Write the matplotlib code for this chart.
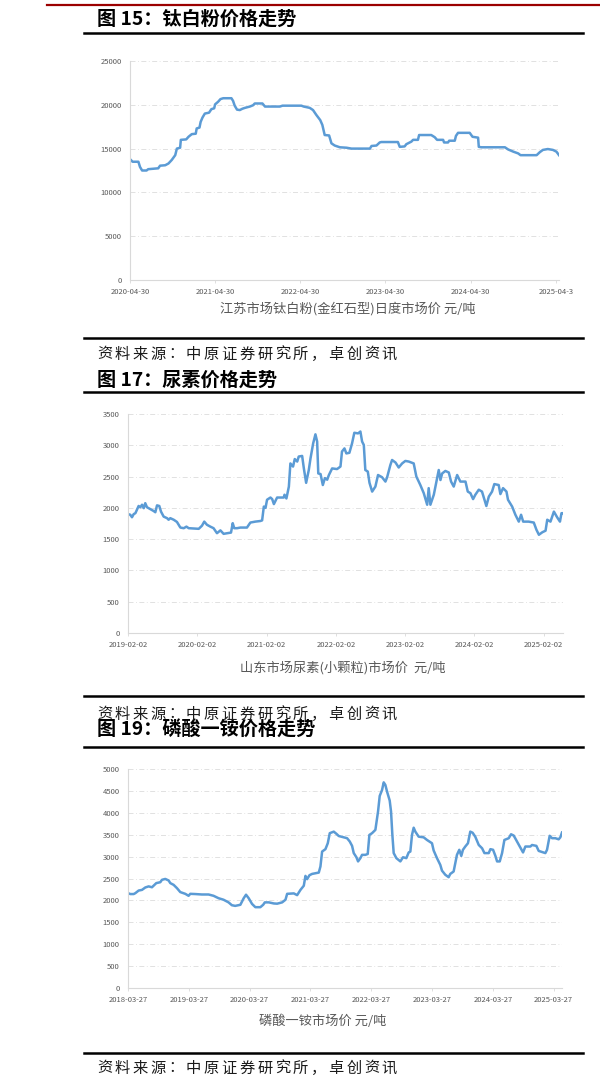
import matplotlib.pyplot as plt
import pandas as pd

plt.rcParams['font.family'] = ['Noto Sans CJK SC', 'DejaVu Sans']

# 钛白粉 (金红石型) 江苏市场, 元/吨
tio2_dates = ['2020-04-30', '2020-05-11', '2020-06-05', '2020-06-12', '2020-06-21', '2020-07-10',
              '2020-07-17', '2020-08-29', '2020-09-06', '2020-09-28', '2020-10-12', '2020-10-26',
              '2020-11-10', '2020-11-17', '2020-12-01', '2020-12-04', '2020-12-27', '2021-01-06',
              '2021-01-20', '2021-02-06', '2021-02-10', '2021-02-22', '2021-02-27', '2021-03-07',
              '2021-03-17', '2021-04-04', '2021-04-14', '2021-04-26', '2021-04-30', '2021-05-13',
              '2021-05-23', '2021-06-04', '2021-07-09', '2021-07-16', '2021-07-23', '2021-08-02',
              '2021-08-14', '2021-08-25', '2021-09-05', '2021-09-26', '2021-10-10', '2021-10-17',
              '2021-11-19', '2021-11-30', '2022-02-02', '2022-02-13', '2022-05-05', '2022-05-15',
              '2022-06-10', '2022-06-24', '2022-07-08', '2022-07-25', '2022-08-03', '2022-08-13',
              '2022-09-01', '2022-09-11', '2022-09-25', '2022-10-17', '2022-11-15', '2022-12-06',
              '2023-02-23', '2023-03-02', '2023-03-23', '2023-04-06', '2023-04-13', '2023-06-23',
              '2023-07-01', '2023-07-22', '2023-07-29', '2023-08-20', '2023-08-27', '2023-09-17',
              '2023-09-22', '2023-11-13', '2023-11-28', '2023-12-08', '2024-01-03', '2024-01-07',
              '2024-01-24', '2024-01-29', '2024-02-22', '2024-02-27', '2024-03-07', '2024-04-26',
              '2024-05-08', '2024-06-01', '2024-06-04', '2024-06-15', '2024-09-24', '2024-10-08',
              '2024-10-30', '2024-11-20', '2024-11-30', '2025-02-07', '2025-02-21', '2025-03-06',
              '2025-03-27', '2025-04-18', '2025-05-03', '2025-05-14']
tio2_price = [13800, 13500, 13500, 12900, 12500, 12500,
              12650, 12750, 13050, 13100, 13300, 13700,
              14250, 15000, 15100, 16000, 16050, 16350,
              16650, 16700, 17300, 17400, 18050, 18550,
              19000, 19100, 19500, 19600, 20050, 20350,
              20650, 20750, 20750, 20450, 19900, 19450,
              19400, 19550, 19650, 19800, 19950, 20150,
              20150, 19800, 19800, 19900, 19900, 19800,
              19650, 19400, 18850, 18250, 17700, 16550,
              16500, 15600, 15350, 15150, 15100, 15000,
              15000, 15300, 15350, 15700, 15750, 15750,
              15200, 15250, 15500, 15800, 16000, 16000,
              16550, 16550, 16300, 16000, 16000, 15700,
              15700, 15900, 15900, 16450, 16800, 16800,
              16350, 16250, 15200, 15150, 15150, 14900,
              14650, 14450, 14250, 14250, 14600, 14850,
              14950, 14850, 14650, 14250]
tio2_ticks = ['2020-04-30', '2021-04-30', '2022-04-30', '2023-04-30', '2024-04-30', '2025-04-30']
tio2_labels = ['2020-04-30', '2021-04-30', '2022-04-30', '2023-04-30', '2024-04-30', '2025-04-3']

# 尿素 (小颗粒) 山东市场, 元/吨
urea_dates = ['2019-02-02', '2019-02-14', '2019-02-23', '2019-03-04', '2019-03-13', '2019-03-30',
              '2019-04-08', '2019-04-17', '2019-04-26', '2019-05-04', '2019-05-13', '2019-05-31',
              '2019-06-17', '2019-06-26', '2019-07-05', '2019-07-17', '2019-07-26', '2019-08-09',
              '2019-08-27', '2019-09-04', '2019-09-13', '2019-10-01', '2019-10-18', '2019-11-05',
              '2019-11-23', '2019-12-07', '2019-12-19', '2020-02-10', '2020-02-27', '2020-03-10',
              '2020-03-24', '2020-04-11', '2020-04-28', '2020-05-16', '2020-06-03', '2020-06-20',
              '2020-07-08', '2020-07-29', '2020-08-07', '2020-08-15', '2020-08-30', '2020-09-16',
              '2020-10-21', '2020-11-08', '2020-12-04', '2020-12-31', '2021-01-09', '2021-01-18',
              '2021-01-27', '2021-02-04', '2021-02-22', '2021-03-03', '2021-03-12', '2021-03-29',
              '2021-05-03', '2021-05-07', '2021-05-17', '2021-05-30', '2021-06-07', '2021-06-21',
              '2021-06-30', '2021-07-13', '2021-07-21', '2021-08-08', '2021-08-17', '2021-08-29',
              '2021-09-12', '2021-09-21', '2021-10-05', '2021-10-17', '2021-10-26', '2021-11-01',
              '2021-11-13', '2021-11-25', '2021-12-06', '2021-12-18', '2021-12-27', '2022-01-13',
              '2022-02-08', '2022-02-26', '2022-03-06', '2022-03-19', '2022-03-29', '2022-04-14',
              '2022-04-28', '2022-05-10', '2022-05-30', '2022-06-11', '2022-06-20', '2022-06-29',
              '2022-07-07', '2022-07-20', '2022-07-29', '2022-08-12', '2022-08-29', '2022-09-12',
              '2022-10-03', '2022-10-21', '2022-10-30', '2022-11-16', '2022-11-25', '2022-12-13',
              '2022-12-30', '2023-01-17', '2023-02-03', '2023-02-21', '2023-03-19', '2023-04-02',
              '2023-04-23', '2023-05-11', '2023-05-29', '2023-06-06', '2023-06-15', '2023-07-03',
              '2023-07-17', '2023-07-29', '2023-08-07', '2023-08-16', '2023-09-02', '2023-09-20',
              '2023-10-02', '2023-10-16', '2023-11-03', '2023-11-20', '2023-12-17', '2023-12-29',
              '2024-01-12', '2024-01-26', '2024-02-07', '2024-02-25', '2024-03-13', '2024-03-26',
              '2024-04-05', '2024-04-18', '2024-05-05', '2024-05-17', '2024-06-09', '2024-06-18',
              '2024-07-02', '2024-07-20', '2024-07-28', '2024-08-19', '2024-09-05', '2024-09-23',
              '2024-10-05', '2024-10-16', '2024-11-14', '2024-12-11', '2024-12-25', '2025-01-07',
              '2025-01-25', '2025-02-11', '2025-02-20', '2025-03-09', '2025-03-27', '2025-04-13',
              '2025-04-28', '2025-05-06', '2025-05-14']
urea_price = [1900, 1890, 1850, 1900, 1915, 2030,
              2010, 2050, 1995, 2075, 2010, 1980,
              1950, 1930, 2040, 2030, 1940, 1860,
              1835, 1810, 1835, 1810, 1775, 1685,
              1675, 1700, 1675, 1665, 1715, 1780,
              1730, 1700, 1675, 1595, 1640, 1585,
              1595, 1605, 1755, 1675, 1675, 1685,
              1685, 1765, 1780, 1790, 1800, 2020,
              2000, 2130, 2165, 2140, 2060, 2165,
              2165, 2210, 2150, 2340, 2710, 2660,
              2780, 2740, 2820, 2830, 2630, 2400,
              2605, 2790, 3030, 3175, 3060, 2550,
              2540, 2365, 2475, 2450, 2525, 2630,
              2620, 2660, 2900, 2950, 2870, 2880,
              3030, 3200, 3190, 3220, 3060, 3005,
              2605, 2580, 2400, 2260, 2340, 2525,
              2490, 2420, 2490, 2685, 2765, 2725,
              2645, 2710, 2750, 2740, 2710, 2500,
              2365, 2235, 2050, 2315, 2050, 2210,
              2420, 2605, 2445, 2550, 2590, 2565,
              2420, 2340, 2525, 2420, 2420, 2260,
              2235, 2140, 2210, 2290, 2260, 2130,
              2030, 2180, 2260, 2380, 2365, 2220,
              2315, 2260, 2130, 2020, 1890, 1780,
              1890, 1780, 1780, 1765, 1650, 1570,
              1610, 1635, 1810, 1780, 1940, 1850,
              1780, 1915, 1915]
urea_ticks = ['2019-02-02', '2020-02-02', '2021-02-02', '2022-02-02', '2023-02-02', '2024-02-02',
              '2025-02-02']

# 磷酸一铵, 元/吨
map_dates = ['2018-03-27', '2018-04-10', '2018-04-30', '2018-05-10', '2018-05-30', '2018-06-19',
             '2018-07-09', '2018-07-29', '2018-08-18', '2018-09-13', '2018-10-07', '2018-10-17',
             '2018-11-06', '2018-11-26', '2018-12-06', '2018-12-26', '2019-01-15', '2019-02-04',
             '2019-03-06', '2019-03-26', '2019-04-05', '2019-05-05', '2019-06-14', '2019-07-24',
             '2019-08-23', '2019-09-22', '2019-10-22', '2019-11-21', '2019-12-11', '2019-12-31',
             '2020-01-31', '2020-02-20', '2020-03-05', '2020-03-21', '2020-04-10', '2020-04-30',
             '2020-05-30', '2020-06-16', '2020-06-26', '2020-07-20', '2020-08-19', '2020-09-08',
             '2020-10-08', '2020-10-28', '2020-11-07', '2020-12-17', '2021-01-06', '2021-01-26',
             '2021-02-15', '2021-02-25', '2021-03-07', '2021-03-21', '2021-04-06', '2021-04-26',
             '2021-05-16', '2021-05-26', '2021-06-05', '2021-06-25', '2021-07-09', '2021-07-21',
             '2021-08-14', '2021-08-30', '2021-09-13', '2021-10-13', '2021-11-02', '2021-11-18',
             '2021-12-02', '2021-12-12', '2021-12-28', '2022-01-07', '2022-01-21', '2022-01-31',
             '2022-02-20', '2022-03-06', '2022-03-16', '2022-04-01', '2022-04-21', '2022-05-07',
             '2022-05-17', '2022-05-31', '2022-06-10', '2022-06-20', '2022-06-30', '2022-07-16',
             '2022-07-24', '2022-08-01', '2022-08-09', '2022-08-25', '2022-09-18', '2022-10-04',
             '2022-10-24', '2022-11-07', '2022-11-17', '2022-11-27', '2022-12-07', '2022-12-17',
             '2023-01-06', '2023-02-05', '2023-02-25', '2023-03-27', '2023-04-06', '2023-04-26',
             '2023-05-16', '2023-05-26', '2023-06-15', '2023-07-05', '2023-07-15', '2023-08-04',
             '2023-08-24', '2023-09-07', '2023-09-19', '2023-09-29', '2023-10-13', '2023-10-29',
             '2023-11-12', '2023-11-26', '2023-12-12', '2024-01-02', '2024-01-22', '2024-02-05',
             '2024-03-02', '2024-03-12', '2024-03-28', '2024-04-11', '2024-04-21', '2024-05-07',
             '2024-05-21', '2024-06-04', '2024-06-30', '2024-07-14', '2024-07-30', '2024-08-19',
             '2024-09-08', '2024-09-24', '2024-10-08', '2024-11-07', '2024-11-17', '2024-12-13',
             '2024-12-27', '2025-02-05', '2025-02-15', '2025-03-03', '2025-03-17', '2025-04-06',
             '2025-04-26', '2025-05-06', '2025-05-16']
map_price = [2165, 2145, 2145, 2165, 2225, 2240,
             2295, 2320, 2300, 2395, 2415, 2470,
             2490, 2455, 2395, 2355, 2280, 2190,
             2150, 2105, 2150, 2145, 2135, 2135,
             2105, 2050, 2015, 1955, 1890, 1875,
             1900, 2050, 2130, 2050, 1920, 1845,
             1845, 1900, 1955, 1955, 1930, 1925,
             1955, 2015, 2150, 2160, 2120, 2240,
             2335, 2560, 2485, 2575, 2605, 2620,
             2635, 2775, 3115, 3170, 3305, 3535,
             3570, 3520, 3470, 3440, 3420, 3345,
             3245, 3080, 2985, 2890, 2965, 3040,
             3040, 3060, 3495, 3535, 3610, 4030,
             4385, 4520, 4695, 4635, 4485, 4280,
             4030, 3495, 3080, 2965, 2890, 2985,
             2965, 3095, 3115, 3495, 3660, 3570,
             3455, 3440, 3380, 3305, 3140, 2965,
             2810, 2680, 2585, 2530, 2605, 2660,
             3040, 3155, 3015, 3155, 3230, 3305,
             3570, 3545, 3455, 3265, 3190, 3080,
             3080, 3170, 3155, 3015, 2890, 2890,
             3080, 3380, 3420, 3510, 3480, 3345,
             3205, 3095, 3230, 3230, 3265, 3245,
             3130, 3080, 3155, 3475, 3420, 3420,
             3395, 3440, 3550]
map_ticks = ['2018-03-27', '2019-03-27', '2020-03-27', '2021-03-27', '2022-03-27', '2023-03-27',
             '2024-03-27', '2025-03-27']

titles = ['图 15：钛白粉价格走势', '图 17：尿素价格走势', '图 19：磷酸一铵价格走势']
captions = ['江苏市场钛白粉(金红石型)日度市场价 元/吨', '山东市场尿素(小颗粒)市场价  元/吨',
            '磷酸一铵市场价 元/吨']
source = '资料来源：中原证券研究所，卓创资讯'

W, H = 600, 1087
LINE = '#5B9BD5'
GREY = '#595959'

fig = plt.figure(figsize=(W / 100, H / 100), dpi=100)

# page decorations drawn in pixel coordinates
page = fig.add_axes([0, 0, 1, 1])
page.set_xlim(0, W)
page.set_ylim(H, 0)
page.axis('off')
page.plot([47, 600], [5, 5], color='#9B0000', lw=1.6)
for y in [33, 338, 392, 696, 747, 1053]:
    page.plot([84, 583], [y, y], color='black', lw=1.8)
for y, t in zip([19, 380, 730], titles):
    page.text(97, y, t, fontsize=13.8, fontweight='bold', va='center', ha='left')
# source line is set with a wide, even character pitch like the original
for y in [353, 713, 1067]:
    for i, ch in enumerate(source):
        page.text(97 + i * 17.8, y + 5.5, ch, fontsize=11, va='baseline', ha='left',
                  color='#1a1a1a')


def panel(box, dates, values, ymax, ystep, ticks, labels, end, caption, cap_xy):
    left, top, right, bottom = box
    ax = fig.add_axes([left / W, 1 - bottom / H, (right - left) / W, (bottom - top) / H])
    x = pd.to_datetime(dates)
    ax.plot(x, values, color=LINE, lw=1.8, solid_joinstyle='round')
    ax.set_xlim(pd.Timestamp(dates[0]), pd.Timestamp(end))
    ax.set_ylim(0, ymax)
    ax.set_yticks(range(0, ymax + 1, ystep))
    ax.set_xticks(pd.to_datetime(ticks))
    ax.set_xticklabels(labels)
    ax.grid(axis='y', color='#dcdcdc', lw=0.6, linestyle=(0, (6, 3, 1, 3)))
    ax.set_axisbelow(True)
    for s in ['top', 'right']:
        ax.spines[s].set_visible(False)
    for s in ['left', 'bottom']:
        ax.spines[s].set_color('#d9d9d9')
        ax.spines[s].set_linewidth(0.8)
    ax.tick_params(axis='y', length=0, pad=6, labelsize=5.5, labelcolor=GREY)
    ax.tick_params(axis='x', length=2.5, width=0.6, color='#d9d9d9', pad=3,
                   labelsize=5.5, labelcolor=GREY)
    page.text(cap_xy[0], cap_xy[1], caption, fontsize=9.5, color=GREY, ha='center', va='center')
    return ax


panel((130, 61, 559, 280), tio2_dates, tio2_price, 25000, 5000, tio2_ticks, tio2_labels,
      '2025-05-14', captions[0], (348, 309))
panel((128, 414, 563, 633), urea_dates, urea_price, 3500, 500, urea_ticks, urea_ticks,
      '2025-05-14', captions[1], (343, 668))
panel((128, 769, 562, 988), map_dates, map_price, 5000, 500, map_ticks, map_ticks,
      '2025-05-16', captions[2], (323, 1021))

fig.savefig('out.png', dpi=100)
